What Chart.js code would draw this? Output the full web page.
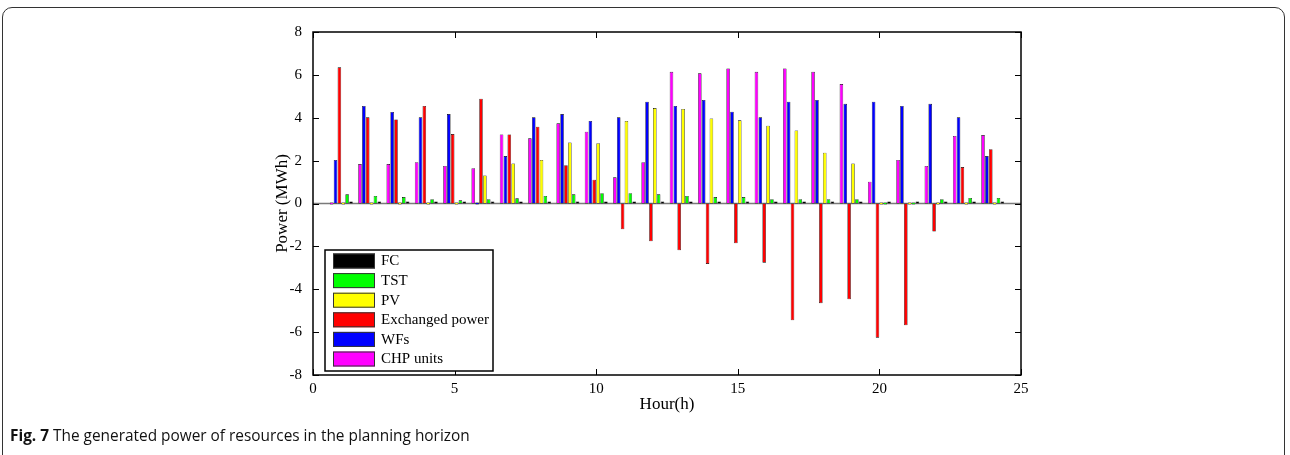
<!DOCTYPE html>
<html>
<head>
<meta charset="utf-8">
<script src="https://cdn.jsdelivr.net/npm/chart.js@4/dist/chart.umd.min.js"></script>
<style>
  html, body { margin: 0; padding: 0; background: #fff; }
  #wrap { position: relative; width: 1290px; height: 455px; overflow: hidden; }
  #frame { position: absolute; left: 2px; top: 7px; width: 1283px; height: 480px;
           border: 1.5px solid #333; border-radius: 10px; box-sizing: border-box; }
  #cap { position: absolute; left: 10px; top: 425px; font-family: "Open Sans", sans-serif;
         font-size: 15.4px; color: #111; white-space: nowrap; }
  #cap b { font-weight: 700; }
  canvas { position: absolute; left: 0; top: 0; }
</style>
</head>
<body>
<div id="wrap">
  <div id="frame"></div>
  <canvas id="chart" width="1290" height="455"></canvas>
  <div id="cap"><b>Fig. 7</b> The generated power of resources in the planning horizon</div>
</div>
<script>
document.addEventListener("DOMContentLoaded", function () {

  // hours 1..24
  const hours = [1, 2, 3, 4, 5, 6, 7, 8, 9, 10, 11, 12, 13, 14, 15, 16, 17, 18, 19, 20, 21, 22, 23, 24];

  const fc = [0.05, 0.05, 0.05, 0.05, 0.05, 0.05, 0.05, 0.05, 0.05, 0.05, 0.05, 0.05,
              0.05, 0.05, 0.05, 0.05, 0.05, 0.05, 0.05, 0.05, 0.05, 0.05, 0.05, 0.05];
  const tst = [0.43, 0.35, 0.30, 0.20, 0.15, 0.20, 0.24, 0.35, 0.43, 0.48, 0.48, 0.43,
               0.35, 0.30, 0.30, 0.20, 0.20, 0.20, 0.20, 0, 0, 0.20, 0.26, 0.26];
  const pv = [0, 0, 0, 0, 0, 1.31, 1.87, 2.03, 2.85, 2.81, 3.85, 4.45,
              4.41, 3.97, 3.88, 3.63, 3.41, 2.37, 1.87, 0, 0, 0, 0, 0];
  const exchanged = [6.35, 4.02, 3.92, 4.55, 3.24, 4.89, 3.22, 3.58, 1.79, 1.11, -1.20, -1.76,
                     -2.18, -2.82, -1.86, -2.76, -5.45, -4.65, -4.47, -6.26, -5.68, -1.31, 1.70, 2.53];
  const wfs = [2.03, 4.55, 4.27, 4.02, 4.17, 0, 2.21, 4.02, 4.17, 3.85, 4.02, 4.75,
               4.55, 4.83, 4.28, 4.02, 4.75, 4.83, 4.65, 4.75, 4.55, 4.65, 4.02, 2.21];
  const chp = [0, 1.84, 1.84, 1.93, 1.75, 1.65, 3.22, 3.04, 3.74, 3.35, 1.22, 1.93,
               6.14, 6.07, 6.30, 6.14, 6.30, 6.14, 5.57, 1.02, 2.03, 1.75, 3.15, 3.19];

  const xTicks = [0, 5, 10, 15, 20, 25];
  const yTicks = [-8, -6, -4, -2, 0, 2, 4, 6, 8];

  const serif = "'Liberation Serif', 'Times New Roman', serif";

  const pts = arr => arr.map((v, i) => ({ x: hours[i], y: v }));

  // bar order inside each hour: CHP, WFs, Exchanged, PV, TST, FC
  const datasets = [
    { label: "CHP units", data: pts(chp), backgroundColor: "#ff00ff" },
    { label: "WFs", data: pts(wfs), backgroundColor: "#0000ff" },
    { label: "Exchanged power", data: pts(exchanged), backgroundColor: "#ff0000" },
    { label: "PV", data: pts(pv), backgroundColor: "#ffff00" },
    { label: "TST", data: pts(tst), backgroundColor: "#00ff00" },
    { label: "FC", data: pts(fc), backgroundColor: "#000000" }
  ];
  datasets.forEach(d => {
    d.borderColor = "#000";
    d.borderWidth = 0.6;
    d.borderSkipped = false;
    d.inflateAmount = 0;
    d.minBarLength = 2;
    d.categoryPercentage = 0.82;
    d.barPercentage = 0.92;
  });

  // box, inward ticks and zero baseline (matlab style)
  const boxPlugin = {
    id: "box",
    beforeDatasetsDraw(chart) {
      const { ctx, chartArea: a, scales } = chart;
      const y0 = scales.y.getPixelForValue(0);
      ctx.save();
      ctx.strokeStyle = "#7a7a7a";
      ctx.lineWidth = 1.5;
      ctx.beginPath();
      ctx.moveTo(a.left, y0);
      ctx.lineTo(a.right, y0);
      ctx.stroke();
      ctx.restore();
    },
    afterDatasetsDraw(chart) {
      const { ctx, chartArea: a, scales } = chart;
      ctx.save();
      ctx.strokeStyle = "#000";
      ctx.lineWidth = 1.5;
      ctx.strokeRect(a.left, a.top, a.right - a.left, a.bottom - a.top);
      ctx.lineWidth = 1;
      ctx.beginPath();
      scales.x.ticks.forEach(t => {
        const px = Math.round(scales.x.getPixelForValue(t.value)) + 0.5;
        ctx.moveTo(px, a.bottom); ctx.lineTo(px, a.bottom - 6);
        ctx.moveTo(px, a.top); ctx.lineTo(px, a.top + 6);
      });
      scales.y.ticks.forEach(t => {
        const py = Math.round(scales.y.getPixelForValue(t.value)) + 0.5;
        ctx.moveTo(a.left, py); ctx.lineTo(a.left + 6, py);
        ctx.moveTo(a.right, py); ctx.lineTo(a.right - 6, py);
      });
      ctx.stroke();
      ctx.restore();
    }
  };

  // vertical legend box in the lower left of the plot
  const legendPlugin = {
    id: "boxLegend",
    afterDraw(chart) {
      const { ctx } = chart;
      const items = chart.data.datasets.slice().reverse();
      const x = 325, y = 250, w = 168, h = 121;
      ctx.save();
      ctx.fillStyle = "#fff";
      ctx.fillRect(x, y, w, h);
      ctx.strokeStyle = "#000";
      ctx.lineWidth = 1.5;
      ctx.strokeRect(x, y, w, h);
      ctx.font = "15px " + serif;
      ctx.textBaseline = "middle";
      items.forEach((d, i) => {
        const sy = y + 3.5 + i * 19.6;
        ctx.fillStyle = d.backgroundColor;
        ctx.fillRect(x + 8, sy, 42, 15);
        ctx.lineWidth = 1;
        ctx.strokeStyle = "#333";
        ctx.strokeRect(x + 8.5, sy + 0.5, 41, 14);
        ctx.fillStyle = "#000";
        ctx.fillText(d.label, x + 56, sy + 8);
      });
      ctx.restore();
    }
  };

  new Chart(document.getElementById("chart"), {
    type: "bar",
    data: { datasets: datasets },
    options: {
      responsive: false,
      animation: false,
      layout: { padding: { left: 268, right: 269, top: 32, bottom: 35 } },
      plugins: {
        legend: { display: false },
        tooltip: { enabled: false }
      },
      scales: {
        x: {
          type: "linear",
          min: 0,
          max: 25,
          offset: false,
          grid: { display: false, offset: false, drawTicks: false },
          border: { display: false },
          afterBuildTicks: s => { s.ticks = xTicks.map(v => ({ value: v })); },
          afterFit: s => { s.height = 45; },
          ticks: { color: "#000", padding: 5, maxRotation: 0, font: { family: serif, size: 15 } },
          title: { display: true, text: "Hour(h)", color: "#000", padding: { top: 0, bottom: 5 },
                   font: { family: serif, size: 17 } }
        },
        y: {
          min: -8,
          max: 8,
          grid: { display: false, drawTicks: false },
          border: { display: false },
          afterBuildTicks: s => { s.ticks = yTicks.map(v => ({ value: v })); },
          afterFit: s => { s.width = 45; },
          ticks: { color: "#000", padding: 11, font: { family: serif, size: 15 } },
          title: { display: true, text: "Power (MWh)", color: "#000", padding: { top: 4, bottom: 0 },
                   font: { family: serif, size: 17 } }
        }
      }
    },
    plugins: [boxPlugin, legendPlugin]
  });
});
</script>
</body>
</html>
